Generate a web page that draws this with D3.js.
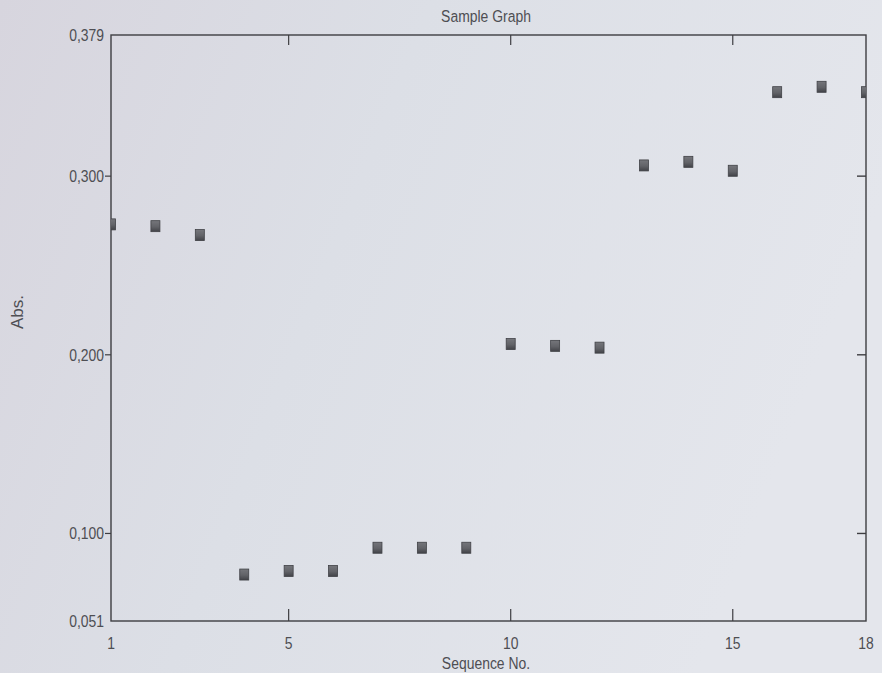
<!DOCTYPE html>
<html>
<head>
<meta charset="utf-8">
<script src="https://cdn.jsdelivr.net/npm/d3@7"></script>
<style>
  html, body { margin: 0; padding: 0; background: #dfe1e8; }
  svg { display: block; }
  text { font-family: "Liberation Sans", Arial, sans-serif; fill: #4e4e53; }
</style>
</head>
<body>
<script>
// Absorbance readings per sequence number
const sequence = [1, 2, 3, 4, 5, 6, 7, 8, 9, 10, 11, 12, 13, 14, 15, 16, 17, 18];
const absorbance = [0.273, 0.272, 0.267, 0.077, 0.079, 0.079, 0.092, 0.092, 0.092,
                    0.206, 0.205, 0.204, 0.306, 0.308, 0.303, 0.347, 0.350, 0.347];

const xTickValues = [1, 5, 10, 15, 18];
const yTickValues = [0.051, 0.100, 0.200, 0.300, 0.379];
const yTickLabels = ["0,051", "0,100", "0,200", "0,300", "0,379"];
const innerXTicks = [5, 10, 15];
const innerYTicks = [0.100, 0.200, 0.300];

const W = 882, H = 673;
const plotLeft = 111, plotRight = 866, plotTop = 35, plotBottom = 621;
const narrow = "scale(0.82,1)";   // condensed lettering
const fontSize = 17;

const svg = d3.select("body").append("svg").attr("width", W).attr("height", H);

// paper background
const defs = svg.append("defs");
const bg = defs.append("linearGradient").attr("id", "paper").attr("x1", 0).attr("y1", 0).attr("x2", 1).attr("y2", 0.3);
bg.append("stop").attr("offset", "0%").attr("stop-color", "#d7d5de");
bg.append("stop").attr("offset", "45%").attr("stop-color", "#dcdfe6");
bg.append("stop").attr("offset", "100%").attr("stop-color", "#e4e6ec");
svg.append("rect").attr("width", W).attr("height", H).attr("fill", "url(#paper)");

const mark = defs.append("linearGradient").attr("id", "mark").attr("x1", 0).attr("y1", 0).attr("x2", 0).attr("y2", 1);
mark.append("stop").attr("offset", "0%").attr("stop-color", "#75767b");
mark.append("stop").attr("offset", "55%").attr("stop-color", "#626368");
mark.append("stop").attr("offset", "100%").attr("stop-color", "#424348");

defs.append("clipPath").attr("id", "plot")
  .append("rect").attr("x", plotLeft).attr("y", plotTop)
  .attr("width", plotRight - plotLeft).attr("height", plotBottom - plotTop);

const x = d3.scaleLinear().domain([1, 18]).range([plotLeft, plotRight]);
const y = d3.scaleLinear().domain([0.051, 0.379]).range([plotBottom, plotTop]);

const axisColor = "#3e3e42";

// x tick labels
svg.append("g").selectAll("g").data(xTickValues).join("g")
  .attr("transform", d => `translate(${x(d)},${plotBottom + 28})`)
  .append("text").attr("transform", narrow).attr("text-anchor", "middle")
  .attr("font-size", fontSize).text(d => d);

// bottom ticks pointing up, top ticks pointing down
svg.append("g").selectAll("line").data(innerXTicks).join("line")
  .attr("x1", d => x(d)).attr("x2", d => x(d))
  .attr("y1", plotBottom).attr("y2", plotBottom - 12)
  .attr("stroke", axisColor).attr("stroke-width", 1.2);
svg.append("g").selectAll("line").data(innerXTicks).join("line")
  .attr("x1", d => x(d)).attr("x2", d => x(d))
  .attr("y1", plotTop).attr("y2", plotTop + 10)
  .attr("stroke", axisColor).attr("stroke-width", 1.2);

// y tick labels
svg.append("g").selectAll("g").data(yTickValues).join("g")
  .attr("transform", d => `translate(${plotLeft - 7},${y(d) + 6})`)
  .append("text").attr("transform", narrow).attr("text-anchor", "end")
  .attr("font-size", fontSize).text((d, i) => yTickLabels[i]);

// left ticks pointing outward
svg.append("g").selectAll("line").data(innerYTicks).join("line")
  .attr("x1", plotLeft).attr("x2", plotLeft - 6)
  .attr("y1", d => y(d)).attr("y2", d => y(d))
  .attr("stroke", axisColor).attr("stroke-width", 1.2);

// right ticks pointing inward
svg.append("g").selectAll("line").data(innerYTicks).join("line")
  .attr("x1", plotRight).attr("x2", plotRight - 9)
  .attr("y1", d => y(d)).attr("y2", d => y(d))
  .attr("stroke", axisColor).attr("stroke-width", 1.4);

// frame
svg.append("rect").attr("x", plotLeft).attr("y", plotTop)
  .attr("width", plotRight - plotLeft).attr("height", plotBottom - plotTop)
  .attr("fill", "none").attr("stroke", axisColor).attr("stroke-width", 1.4);

// square markers
svg.append("g").attr("clip-path", "url(#plot)")
  .selectAll("rect").data(sequence).join("rect")
  .attr("x", d => x(d) - 4.5)
  .attr("y", (d, i) => y(absorbance[i]) - 5.5)
  .attr("width", 9).attr("height", 11)
  .attr("fill", "url(#mark)")
  .attr("stroke", "#404146").attr("stroke-width", 0.8);

// titles
svg.append("g").attr("transform", "translate(486,22)")
  .append("text").attr("transform", narrow).attr("text-anchor", "middle")
  .attr("font-size", fontSize).text("Sample Graph");
svg.append("g").attr("transform", "translate(486,669)")
  .append("text").attr("transform", narrow).attr("text-anchor", "middle")
  .attr("font-size", fontSize).text("Sequence No.");
svg.append("text").attr("transform", "translate(23,312) rotate(-90)").attr("text-anchor", "middle")
  .attr("font-size", fontSize).text("Abs.");
</script>
</body>
</html>
